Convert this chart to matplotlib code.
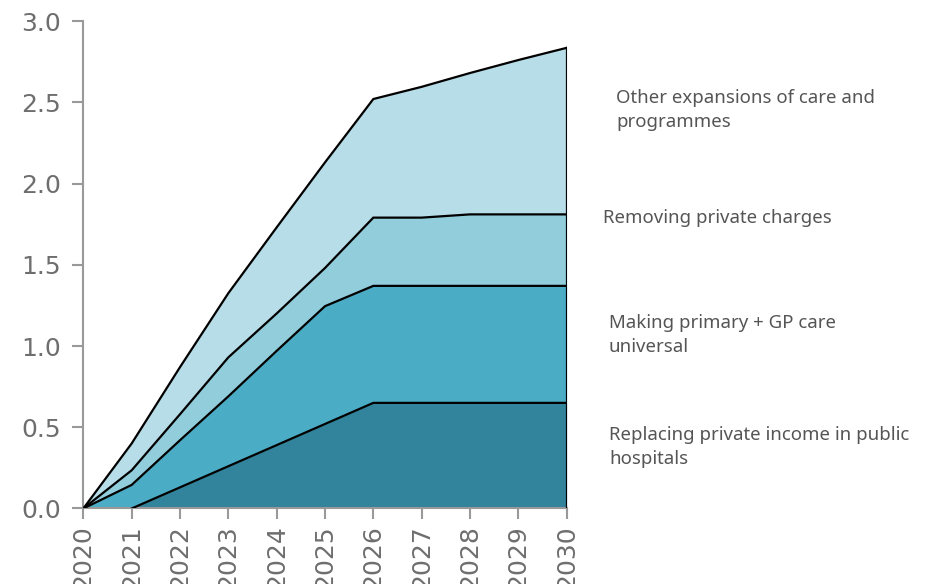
import matplotlib.pyplot as plt
import numpy as np

years = [2020, 2021, 2022, 2023, 2024, 2025, 2026, 2027, 2028, 2029, 2030]

# annual amounts per measure (stacked, bottom to top)
replacing_income = [0.0, 0.0, 0.13, 0.26, 0.39, 0.52, 0.65, 0.65, 0.65, 0.65, 0.65]
primary_gp = [0.0, 0.145, 0.29, 0.43, 0.58, 0.725, 0.72, 0.72, 0.72, 0.72, 0.72]
private_charges = [0.0, 0.09, 0.16, 0.24, 0.23, 0.235, 0.42, 0.42, 0.44, 0.44, 0.44]
other_expansions = [0.0, 0.165, 0.29, 0.395, 0.53, 0.65, 0.73, 0.805, 0.87, 0.95, 1.025]

labels = [
    "Replacing private income in public\nhospitals",
    "Making primary + GP care\nuniversal",
    "Removing private charges",
    "Other expansions of care and\nprogrammes",
]
colors = ["#31849b", "#4bacc6", "#92cddc", "#b7dde8"]

series = np.array([replacing_income, primary_gp, private_charges, other_expansions])
tops = np.cumsum(series, axis=0)
x = np.array(years)

fig = plt.figure(figsize=(9.29, 5.84), dpi=100)
ax = fig.add_axes([0.0897, 0.1293, 0.5203, 0.8347])

base = np.zeros(len(years))
for i, top in enumerate(tops):
    ax.fill_between(x, base, top, color=colors[i], linewidth=0, zorder=1)
    start = 1 if i == 0 else 0
    ax.plot(x[start:], top[start:], color="black", lw=1.6, zorder=3,
            solid_joinstyle="miter")
    base = top
ax.plot([x[-1], x[-1]], [0, tops[-1][-1]], color="black", lw=1.6, zorder=3)

ax.set_xlim(2020, 2030)
ax.set_ylim(0, 3.0)
ax.set_xticks(years)
ax.set_xticklabels([str(y) for y in years], rotation=90)
ax.set_yticks(np.arange(0, 3.01, 0.5))
ax.set_yticklabels([f"{v:.1f}" for v in np.arange(0, 3.01, 0.5)])

for s in ["top", "right"]:
    ax.spines[s].set_visible(False)
for s in ["left", "bottom"]:
    ax.spines[s].set_color("#999999")
    ax.spines[s].set_linewidth(1.5)
    ax.spines[s].set_zorder(2)
ax.tick_params(axis="both", colors="#999999", width=1.5, length=8,
               labelsize=18, labelcolor="#6e6e6e")
ax.tick_params(axis="y", pad=8)
ax.tick_params(axis="x", pad=4)
ax.margins(0)

# labels right of the chart
label_pos = [(609, 447), (609, 335), (603, 218), (616, 110)]
for (px, py), text in zip(label_pos, labels):
    fig.text(px / 929, 1 - py / 584, text, fontsize=13.4, color="#555555",
             family="Noto Sans", va="center", ha="left", linespacing=1.45)

fig.savefig("out.png", dpi=100)
